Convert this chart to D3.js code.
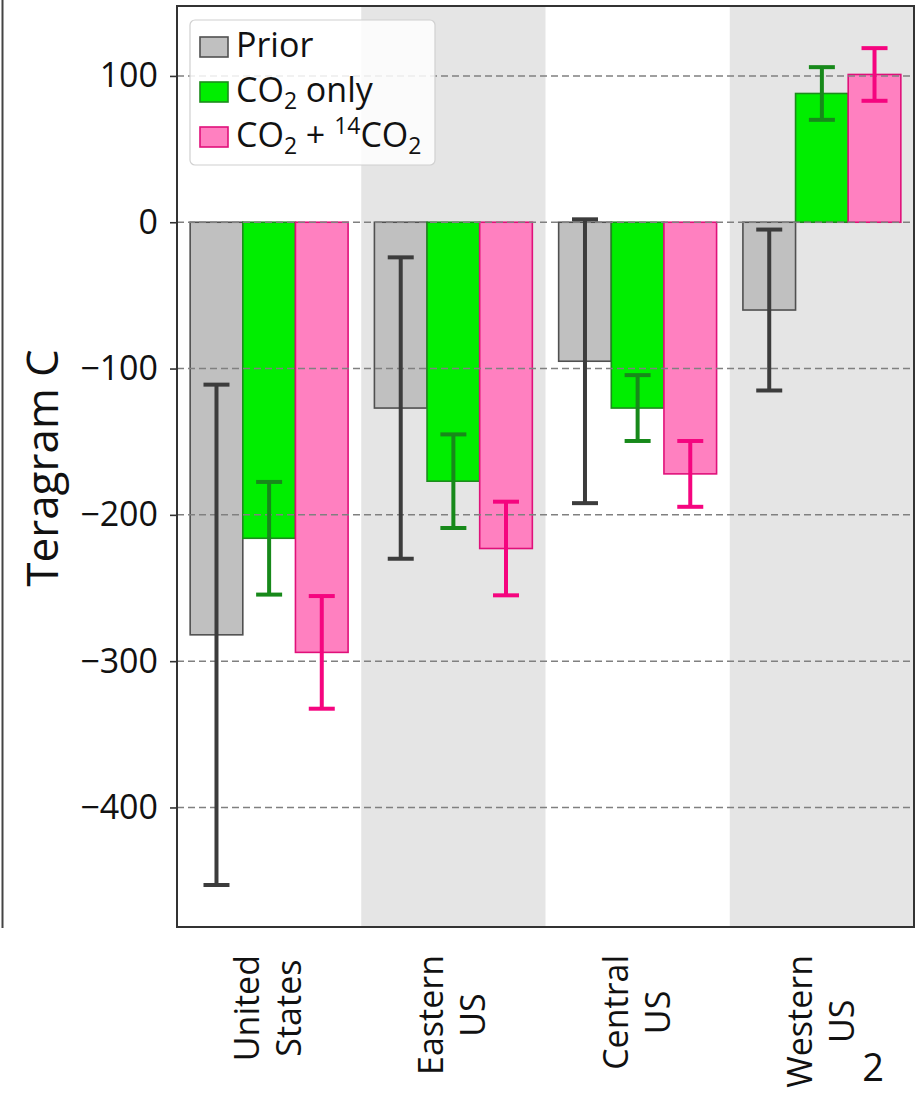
<!DOCTYPE html>
<html>
<head>
<meta charset="utf-8">
<script src="https://cdn.jsdelivr.net/npm/d3@7"></script>
<style>
  body { margin: 0; background: #fff; }
  text { font-family: "Open Sans", sans-serif; fill: #111; }
</style>
</head>
<body>
<script>
// Data
var categories = ["United States", "Eastern US", "Central US", "Western US"];
var seriesKeys = ["prior", "co2", "c14"];
var priorValues = [-282, -127, -95, -60];
var priorErrors = [171, 103, 97, 55];
var co2Values = [-216, -177, -127, 88];
var co2Errors = [38.5, 32, 22.5, 18];
var c14Values = [-294, -223, -172, 101];
var c14Errors = [38.5, 32, 22.5, 18];
var yTicks = [100, 0, -100, -200, -300, -400];

var fills = { prior: "#c0c0c0", co2: "#00ee00", c14: "#ff80c0" };
var edges = { prior: "#505050", co2: "#1c8c1c", c14: "#e0107a" };
var errColors = { prior: "#3c3c3c", co2: "#17891a", c14: "#f5057f" };

var valuesByKey = { prior: priorValues, co2: co2Values, c14: c14Values };
var errorsByKey = { prior: priorErrors, co2: co2Errors, c14: c14Errors };

var outerWidth = 924, outerHeight = 1094;
var plot = { left: 177, right: 914, top: 6, bottom: 927 };

var svg = d3.select("body").append("svg")
    .attr("width", outerWidth)
    .attr("height", outerHeight);

// Scales
var x0Scale = d3.scaleBand()
    .domain(categories)
    .range([plot.left, plot.right])
    .padding(0);
var x1Scale = d3.scaleBand()
    .domain(seriesKeys)
    .range([0, x0Scale.bandwidth()])
    .paddingInner(0)
    .paddingOuter(0.25);
var yScale = d3.scaleLinear()
    .domain([-481.7, 147.8])
    .range([plot.bottom, plot.top]);

// edge of the neighbouring panel on the left
svg.append("line")
    .attr("x1", 2.5).attr("x2", 2.5)
    .attr("y1", 0).attr("y2", plot.bottom + 1)
    .attr("stroke", "#444").attr("stroke-width", 2);

// alternating band shading
svg.append("g").selectAll("rect")
    .data(categories.filter(function (d, i) { return i % 2 === 1; }))
    .enter().append("rect")
        .attr("x", function (d) { return x0Scale(d); })
        .attr("y", plot.top)
        .attr("width", x0Scale.bandwidth())
        .attr("height", plot.bottom - plot.top)
        .attr("fill", "#e5e5e5");

// rows for each bar
var rows = [];
categories.forEach(function (c, i) {
    seriesKeys.forEach(function (k) {
        rows.push({ cat: c, key: k, value: valuesByKey[k][i], err: errorsByKey[k][i] });
    });
});

// bars
svg.append("g").selectAll("rect")
    .data(rows)
    .enter().append("rect")
        .attr("x", function (d) { return x0Scale(d.cat) + x1Scale(d.key); })
        .attr("y", function (d) { return yScale(Math.max(0, d.value)); })
        .attr("width", x1Scale.bandwidth())
        .attr("height", function (d) { return Math.abs(yScale(d.value) - yScale(0)); })
        .attr("fill", function (d) { return fills[d.key]; })
        .attr("stroke", function (d) { return edges[d.key]; })
        .attr("stroke-width", 1.6);

// dashed grid, drawn over bars
svg.append("g").selectAll("line")
    .data(yTicks)
    .enter().append("line")
        .attr("x1", plot.left).attr("x2", plot.right)
        .attr("y1", function (d) { return yScale(d); })
        .attr("y2", function (d) { return yScale(d); })
        .attr("stroke", "#808080")
        .attr("stroke-width", 1.5)
        .attr("stroke-dasharray", "7,4");

// error bars
var err = svg.append("g").selectAll("g")
    .data(rows)
    .enter().append("g")
        .attr("stroke", function (d) { return errColors[d.key]; })
        .attr("stroke-width", 4);
err.append("line")
    .attr("x1", function (d) { return x0Scale(d.cat) + x1Scale(d.key) + x1Scale.bandwidth() / 2; })
    .attr("x2", function (d) { return x0Scale(d.cat) + x1Scale(d.key) + x1Scale.bandwidth() / 2; })
    .attr("y1", function (d) { return yScale(d.value + d.err); })
    .attr("y2", function (d) { return yScale(d.value - d.err); });
[1, -1].forEach(function (s) {
    err.append("line")
        .attr("x1", function (d) { return x0Scale(d.cat) + x1Scale(d.key) + x1Scale.bandwidth() / 2 - 13; })
        .attr("x2", function (d) { return x0Scale(d.cat) + x1Scale(d.key) + x1Scale.bandwidth() / 2 + 13; })
        .attr("y1", function (d) { return yScale(d.value + s * d.err); })
        .attr("y2", function (d) { return yScale(d.value + s * d.err); });
});

// frame
svg.append("rect")
    .attr("x", plot.left).attr("y", plot.top)
    .attr("width", plot.right - plot.left)
    .attr("height", plot.bottom - plot.top)
    .attr("fill", "none")
    .attr("stroke", "#333")
    .attr("stroke-width", 2);

// Y axis
var yAxis = svg.append("g")
    .attr("transform", "translate(" + plot.left + ",0)")
    .call(d3.axisLeft(yScale).tickValues(yTicks).tickSize(7).tickPadding(12)
        .tickFormat(function (d) { return d < 0 ? "\u2212" + Math.abs(d) : d; }));
yAxis.select(".domain").remove();
yAxis.selectAll(".tick line").attr("stroke", "#333").attr("stroke-width", 1.6);
yAxis.selectAll(".tick text")
    .attr("font-size", 34)
    .attr("fill", "#111")
    .style("font-family", "'Open Sans', sans-serif");

svg.append("text")
    .attr("transform", "translate(58," + 468 + ") rotate(-90)")
    .attr("text-anchor", "middle")
    .attr("font-size", 44)
    .text("Teragram C");

// category labels, two rotated lines each
svg.append("g").selectAll("g")
    .data(categories)
    .enter().append("g")
    .each(function (c) {
        var lines = c.split(" ");
        var g = d3.select(this);
        var cx = x0Scale(c) + x0Scale.bandwidth() / 2;
        var texts = lines.map(function (l, j) {
            return g.append("text")
                .attr("font-size", 34)
                .attr("text-anchor", "middle")
                .text(l)
                .attr("data-base", cx - 10 + j * 42);
        });
        var maxLen = d3.max(texts, function (t) { return t.node().getComputedTextLength(); });
        var cy = 955 + maxLen / 2;
        texts.forEach(function (t) {
            t.attr("transform", "translate(" + t.attr("data-base") + "," + cy + ") rotate(-90)");
        });
    });

// legend
var legendItems = [
    { key: "prior", parts: [["Prior", ""]] },
    { key: "co2", parts: [["CO", ""], ["2", "sub"], [" only", ""]] },
    { key: "c14", parts: [["CO", ""], ["2", "sub"], [" + ", ""], ["14", "sup"], ["CO", ""], ["2", "sub"]] }
];
var legend = svg.append("g");
legend.append("rect")
    .attr("x", 190).attr("y", 20)
    .attr("width", 245).attr("height", 145)
    .attr("rx", 5)
    .attr("fill", "#fff").attr("fill-opacity", 0.85)
    .attr("stroke", "#d0d0d0").attr("stroke-width", 1.2);
legendItems.forEach(function (item, i) {
    var base = 57 + i * 45;
    legend.append("rect")
        .attr("x", 200).attr("y", base - 20)
        .attr("width", 28).attr("height", 20)
        .attr("fill", fills[item.key])
        .attr("stroke", edges[item.key])
        .attr("stroke-width", 1.6);
    var t = legend.append("text")
        .attr("x", 236).attr("y", base)
        .attr("font-size", 34);
    var shift = 0;
    item.parts.forEach(function (p) {
        var dy = 0;
        if (p[1] === "sub") dy = 7 - shift;
        else if (p[1] === "sup") dy = -13 - shift;
        else dy = -shift;
        shift += dy;
        t.append("tspan")
            .attr("dy", dy)
            .attr("font-size", p[1] ? 23 : 34)
            .text(p[0]);
    });
});

// page number
svg.append("text")
    .attr("x", 873).attr("y", 1081)
    .attr("text-anchor", "middle")
    .attr("font-size", 38)
    .text("2");
</script>
</body>
</html>
